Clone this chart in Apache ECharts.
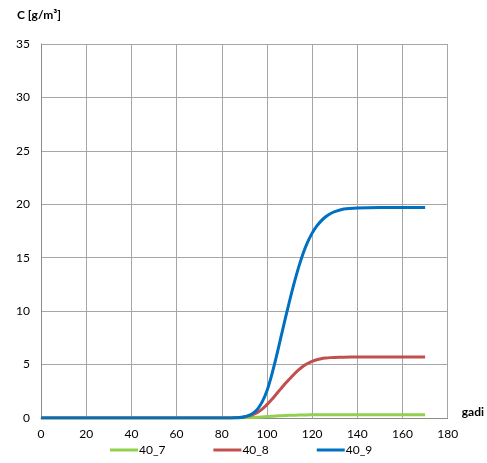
<!DOCTYPE html>
<html>
<head>
<meta charset="utf-8">
<script src="https://cdn.jsdelivr.net/npm/echarts@6/dist/echarts.min.js"></script>
<style>
  html, body { margin: 0; padding: 0; background: #fff; }
  #chart { width: 487px; height: 463px; }
</style>
</head>
<body>
<div id="chart"></div>
<script>
// Concentration over time (days) for three runs
const days = [0, 10, 20, 30, 40, 50, 60, 70, 80, 82, 84, 86, 88, 90, 92, 94, 96, 98, 100,
  102, 104, 106, 108, 110, 112, 114, 116, 118, 120, 122, 124, 126, 128, 130, 134, 140, 150, 160, 170];

const s40_7 = [0, 0, 0, 0, 0, 0, 0, 0, 0, 0, 0, 0.005, 0.01, 0.02, 0.03, 0.05, 0.07, 0.1, 0.13,
  0.16, 0.19, 0.21, 0.23, 0.25, 0.26, 0.27, 0.28, 0.29, 0.3, 0.3, 0.3, 0.3, 0.3, 0.3, 0.3, 0.3, 0.3, 0.3, 0.3];

const s40_8 = [0, 0, 0, 0, 0, 0, 0, 0, 0, 0.005, 0.01, 0.025, 0.05, 0.1, 0.2, 0.35, 0.55, 0.85, 1.25,
  1.7, 2.2, 2.7, 3.2, 3.65, 4.1, 4.5, 4.85, 5.1, 5.3, 5.45, 5.55, 5.61, 5.65, 5.67, 5.69, 5.7, 5.7, 5.7, 5.7];

const s40_9 = [0, 0, 0, 0, 0, 0, 0, 0, 0, 0.003, 0.01, 0.025, 0.05, 0.12, 0.25, 0.48, 0.88, 1.55, 2.55,
  3.95, 5.6, 7.4, 9.2, 10.95, 12.6, 14.1, 15.4, 16.45, 17.3, 17.95, 18.45, 18.83, 19.11, 19.31, 19.55, 19.66, 19.7, 19.7, 19.7];

const seriesNames = ['40_7', '40_8', '40_9'];
const seriesColors = ['#92D050', '#C0504D', '#0070C0'];
const seriesValues = [s40_7, s40_8, s40_9];

const FONT = 'Lato, "Open Sans", sans-serif';

const chart = echarts.init(document.getElementById('chart'), null, { renderer: 'canvas' });

chart.setOption({
  animation: false,
  backgroundColor: '#ffffff',
  textStyle: { fontFamily: FONT },
  title: {
    text: 'C [g/m³]',
    left: 12,
    top: 4,
    textStyle: { fontFamily: FONT, fontSize: 12, fontWeight: 'bold', color: '#000' }
  },
  grid: { left: 41, right: 39, top: 44, bottom: 45, containLabel: false },
  legend: {
    bottom: 2,
    left: 105,
    itemWidth: 28,
    itemHeight: 3,
    itemGap: 48,
    icon: 'rect',
    textStyle: { fontFamily: FONT, fontSize: 12, color: '#000', padding: [0, 0, 0, -4] },
    data: seriesNames
  },
  xAxis: {
    type: 'value',
    min: 0,
    max: 180,
    interval: 20,
    name: 'gadi',
    nameLocation: 'end',
    nameGap: 14,
    nameTextStyle: { fontFamily: FONT, fontSize: 12, fontWeight: 'bold', color: '#000', verticalAlign: 'bottom' },
    axisLine: { show: true, lineStyle: { color: '#8c8c8c', width: 1 } },
    axisTick: { show: false },
    axisLabel: { color: '#000', fontSize: 12, fontFamily: FONT, margin: 10 },
    splitLine: { show: true, lineStyle: { color: '#a6a6a6', width: 1 } }
  },
  yAxis: {
    type: 'value',
    min: 0,
    max: 35,
    interval: 5,
    axisLine: { show: true, lineStyle: { color: '#8c8c8c', width: 1 } },
    axisTick: { show: false },
    axisLabel: { color: '#000', fontSize: 12, fontFamily: FONT, margin: 11 },
    splitLine: { show: true, lineStyle: { color: '#a6a6a6', width: 1 } }
  },
  series: seriesNames.map((name, i) => ({
    name: name,
    type: 'line',
    smooth: 0.3,
    showSymbol: false,
    symbol: 'none',
    color: seriesColors[i],
    lineStyle: { width: 3, color: seriesColors[i] },
    data: days.map((d, j) => [d, seriesValues[i][j]])
  }))
});
</script>
</body>
</html>
